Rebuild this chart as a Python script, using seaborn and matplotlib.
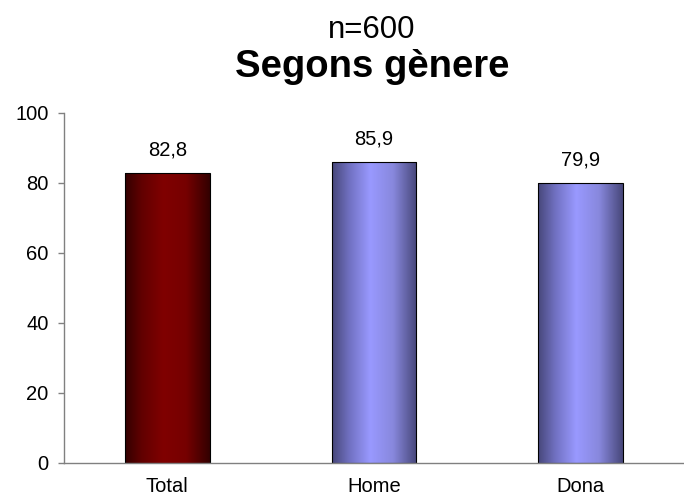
import numpy as np
import matplotlib
matplotlib.use("Agg")
import matplotlib.pyplot as plt
import seaborn as sns
import pandas as pd
from matplotlib.colors import LinearSegmentedColormap

categories = ["Total", "Home", "Dona"]
values = [82.8, 85.9, 79.9]
value_labels = ["82,8", "85,9", "79,9"]
yticks = [0, 20, 40, 60, 80, 100]
title_top = "n=600"
title_main = "Segons gènere"

sns.set_style("white")
plt.rcParams['font.family'] = ['Liberation Sans', 'DejaVu Sans']
plt.rcParams['text.color'] = 'black'
plt.rcParams['xtick.labelcolor'] = 'black'
plt.rcParams['ytick.labelcolor'] = 'black'

fig = plt.figure(figsize=(6.84, 5.04), dpi=100)
ax = fig.add_axes([64 / 684, 41 / 504, 620 / 684, 350 / 504])

df = pd.DataFrame({"cat": categories, "val": values})
sns.barplot(data=df, x="cat", y="val", ax=ax, width=0.41, color="white",
            edgecolor="black", linewidth=0.8, errorbar=None)

grad_colors = [
    ["#330000", "#620000", "#800000", "#760000", "#330000"],
    ["#47477a", "#7070c0", "#9999ff", "#8888dd", "#47477a"],
    ["#47477a", "#7070c0", "#9999ff", "#8888dd", "#47477a"],
]
pos = [0.0, 0.2, 0.45, 0.72, 1.0]
for patch, cols in zip(ax.patches, grad_colors):
    x, y = patch.get_x(), patch.get_y()
    w, h = patch.get_width(), patch.get_height()
    cmap = LinearSegmentedColormap.from_list("g", list(zip(pos, cols)))
    grad = np.linspace(0, 1, 256).reshape(1, -1)
    im = ax.imshow(grad, cmap=cmap, extent=[x, x + w, y, y + h],
                   aspect="auto", zorder=patch.get_zorder() - 0.1,
                   interpolation="bilinear")
    im.set_clip_path(patch)
    patch.set_facecolor("none")

for i, (v, lab) in enumerate(zip(values, value_labels)):
    ax.annotate(lab, (i, v), xytext=(0, 13), textcoords="offset points",
                ha="center", va="baseline", fontsize=14.5, color="black")

ax.set_xlim(-0.5, 2.5)
ax.set_ylim(0, 100)
ax.set_yticks(yticks)
ax.set_yticklabels([str(t) for t in yticks], fontsize=14.5)
ax.set_xticks(range(len(categories)))
ax.set_xticklabels(categories, fontsize=14.5)
ax.set_xticks([-0.5, 0.5, 1.5, 2.5], minor=True)
ax.tick_params(axis="x", which="major", length=0, pad=10)
ax.tick_params(axis="x", which="minor", length=4, width=1, color="#808080", direction="out")
ax.tick_params(axis="y", which="major", length=4, width=1, color="#808080", direction="out", pad=7, left=True)
ax.set_xlabel("")
ax.set_ylabel("")
for s in ["top", "right"]:
    ax.spines[s].set_visible(False)
for s in ["left", "bottom"]:
    ax.spines[s].set_color("#808080")
    ax.spines[s].set_linewidth(1)

fig.text(372 / 684, 1 - 37.7 / 504, title_top, ha="center", va="baseline", fontsize=22.5)
fig.text(372 / 684, 1 - 77 / 504, title_main, ha="center", va="baseline", fontsize=27.5, fontweight="bold")

fig.savefig("out.png", dpi=100)
